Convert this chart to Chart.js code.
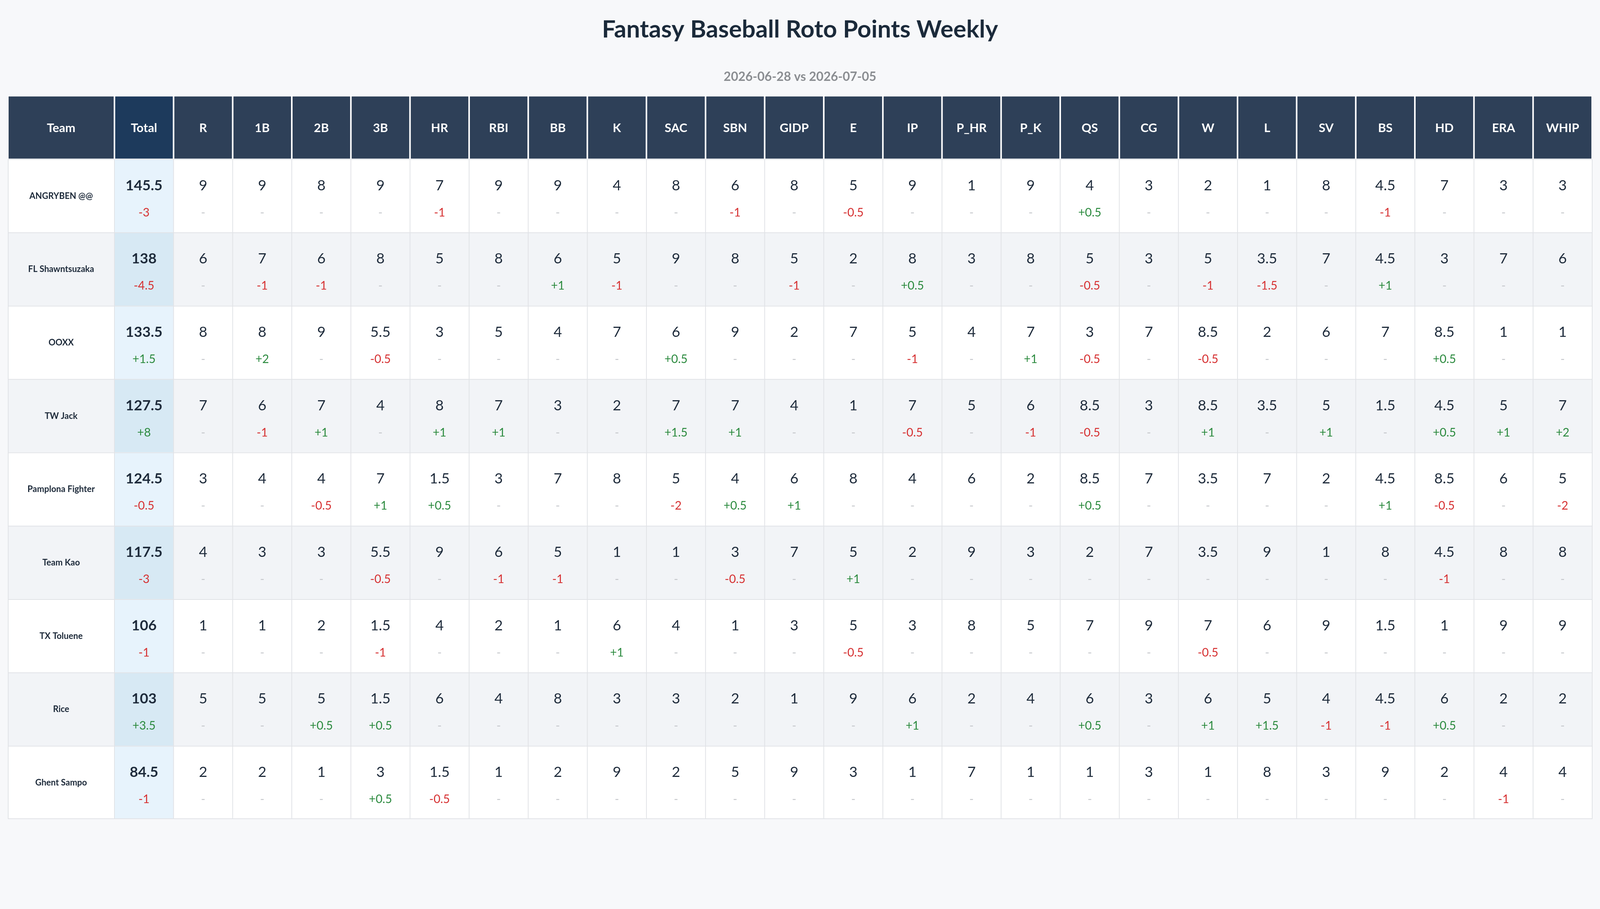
<!DOCTYPE html>
<html>
<head>
<meta charset="utf-8">
<title>Fantasy Baseball Roto Points Weekly</title>
<script src="https://cdn.jsdelivr.net/npm/chart.js@4.4.1/dist/chart.umd.min.js"></script>
<style>
  html, body { margin: 0; padding: 0; background: #f7f8fa; overflow: hidden; }
  #wrap { width: 100vw; height: 100vh; }
</style>
</head>
<body>
<div id="wrap"><canvas id="roto"></canvas></div>
<script>
const TEAMS = ["ANGRYBEN @@", "FL Shawntsuzaka", "OOXX", "TW Jack", "Pamplona Fighter",
  "Team Kao", "TX Toluene", "Rice", "Ghent Sampo"];

const STATS = ["R", "1B", "2B", "3B", "HR", "RBI", "BB", "K", "SAC", "SBN", "GIDP", "E",
  "IP", "P_HR", "P_K", "QS", "CG", "W", "L", "SV", "BS", "HD", "ERA", "WHIP"];

const TOTALS = [145.5, 138, 133.5, 127.5, 124.5, 117.5, 106, 103, 84.5];
const TOTAL_DELTAS = [-3, -4.5, 1.5, 8, -0.5, -3, -1, 3.5, -1];

// roto points per team, in STATS order
const POINTS = [
  [9, 9, 8, 9, 7, 9, 9, 4, 8, 6, 8, 5, 9, 1, 9, 4, 3, 2, 1, 8, 4.5, 7, 3, 3],
  [6, 7, 6, 8, 5, 8, 6, 5, 9, 8, 5, 2, 8, 3, 8, 5, 3, 5, 3.5, 7, 4.5, 3, 7, 6],
  [8, 8, 9, 5.5, 3, 5, 4, 7, 6, 9, 2, 7, 5, 4, 7, 3, 7, 8.5, 2, 6, 7, 8.5, 1, 1],
  [7, 6, 7, 4, 8, 7, 3, 2, 7, 7, 4, 1, 7, 5, 6, 8.5, 3, 8.5, 3.5, 5, 1.5, 4.5, 5, 7],
  [3, 4, 4, 7, 1.5, 3, 7, 8, 5, 4, 6, 8, 4, 6, 2, 8.5, 7, 3.5, 7, 2, 4.5, 8.5, 6, 5],
  [4, 3, 3, 5.5, 9, 6, 5, 1, 1, 3, 7, 5, 2, 9, 3, 2, 7, 3.5, 9, 1, 8, 4.5, 8, 8],
  [1, 1, 2, 1.5, 4, 2, 1, 6, 4, 1, 3, 5, 3, 8, 5, 7, 9, 7, 6, 9, 1.5, 1, 9, 9],
  [5, 5, 5, 1.5, 6, 4, 8, 3, 3, 2, 1, 9, 6, 2, 4, 6, 3, 6, 5, 4, 4.5, 6, 2, 2],
  [2, 2, 1, 3, 1.5, 1, 2, 9, 2, 5, 9, 3, 1, 7, 1, 1, 3, 1, 8, 3, 9, 2, 4, 4]
];

// change vs previous week (0 = no change)
const DELTAS = [
  [0, 0, 0, 0, -1, 0, 0, 0, 0, -1, 0, -0.5, 0, 0, 0, 0.5, 0, 0, 0, 0, -1, 0, 0, 0],
  [0, -1, -1, 0, 0, 0, 1, -1, 0, 0, -1, 0, 0.5, 0, 0, -0.5, 0, -1, -1.5, 0, 1, 0, 0, 0],
  [0, 2, 0, -0.5, 0, 0, 0, 0, 0.5, 0, 0, 0, -1, 0, 1, -0.5, 0, -0.5, 0, 0, 0, 0.5, 0, 0],
  [0, -1, 1, 0, 1, 1, 0, 0, 1.5, 1, 0, 0, -0.5, 0, -1, -0.5, 0, 1, 0, 1, 0, 0.5, 1, 2],
  [0, 0, -0.5, 1, 0.5, 0, 0, 0, -2, 0.5, 1, 0, 0, 0, 0, 0.5, 0, 0, 0, 0, 1, -0.5, 0, -2],
  [0, 0, 0, -0.5, 0, -1, -1, 0, 0, -0.5, 0, 1, 0, 0, 0, 0, 0, 0, 0, 0, 0, -1, 0, 0],
  [0, 0, 0, -1, 0, 0, 0, 1, 0, 0, 0, -0.5, 0, 0, 0, 0, 0, -0.5, 0, 0, 0, 0, 0, 0],
  [0, 0, 0.5, 0.5, 0, 0, 0, 0, 0, 0, 0, 0, 1, 0, 0, 0.5, 0, 1, 1.5, -1, -1, 0.5, 0, 0],
  [0, 0, 0, 0.5, -0.5, 0, 0, 0, 0, 0, 0, 0, 0, 0, 0, 0, 0, 0, 0, 0, 0, 0, -1, 0]
];

const COLUMNS = ["Total", ...STATS];
const FONT = 'Lato, "Noto Sans", sans-serif';

const cells = [];
TEAMS.forEach((team, r) => {
  cells.push({ x: "Total", y: team, v: TOTALS[r], d: TOTAL_DELTAS[r], total: true });
  STATS.forEach((s, c) => {
    cells.push({ x: s, y: team, v: POINTS[r][c], d: DELTAS[r][c], total: false });
  });
});

function fmtDelta(d) {
  if (!d) return "-";
  return (d > 0 ? "+" : "") + d;
}

function deltaColor(d) {
  if (!d) return "#c6c8cc";
  return d > 0 ? "#2b8a3e" : "#d63031";
}

function text(ctx, s, x, y, font, color) {
  ctx.font = font;
  ctx.fillStyle = color;
  ctx.textAlign = "center";
  ctx.textBaseline = "alphabetic";
  ctx.fillText(s, x, y);
}

const tablePlugin = {
  id: "rotoTable",
  beforeDraw(chart) {
    const { ctx, chartArea: a, scales: { x, y } } = chart;
    const halfW = (x.getPixelForValue(1) - x.getPixelForValue(0)) / 2;
    const halfH = (y.getPixelForValue(1) - y.getPixelForValue(0)) / 2;
    const left = y.left, right = a.right;

    ctx.save();
    ctx.fillStyle = "#f7f8fa";
    ctx.fillRect(0, 0, chart.width, chart.height);

    // table background
    ctx.fillStyle = "#ffffff";
    ctx.fillRect(left, x.top - 3, right - left, a.bottom - x.top + 3);

    // header row
    const hTop = x.top, hH = a.top - x.top - 1;
    ctx.fillStyle = "#2e4058";
    ctx.fillRect(left + 2, hTop, y.right - left - 4, hH);
    COLUMNS.forEach((c, i) => {
      const cx = x.getPixelForValue(i);
      ctx.fillStyle = i === 0 ? "#1d3a5c" : "#2e4058";
      ctx.fillRect(cx - halfW + 2, hTop, halfW * 2 - 4, hH);
    });

    // body rows
    TEAMS.forEach((t, r) => {
      const cy = y.getPixelForValue(r);
      const alt = r % 2 === 1;
      ctx.fillStyle = alt ? "#f2f4f7" : "#ffffff";
      ctx.fillRect(left, cy - halfH, right - left, halfH * 2);
      const tx = x.getPixelForValue(0);
      ctx.fillStyle = alt ? "#d7e9f4" : "#e7f3fc";
      ctx.fillRect(tx - halfW, cy - halfH, halfW * 2, halfH * 2);
    });

    // cell borders
    ctx.strokeStyle = "#e1e3e7";
    ctx.lineWidth = 2;
    ctx.beginPath();
    for (let i = 0; i <= COLUMNS.length; i++) {
      const px = i < COLUMNS.length ? x.getPixelForValue(i) - halfW : right;
      ctx.moveTo(px, a.top + 1);
      ctx.lineTo(px, a.bottom);
    }
    ctx.moveTo(left + 1, a.top + 1);
    ctx.lineTo(left + 1, a.bottom);
    TEAMS.forEach((t, r) => {
      const py = y.getPixelForValue(r) - halfH + 1;
      ctx.moveTo(left, py);
      ctx.lineTo(right, py);
    });
    ctx.moveTo(left, a.bottom - 1);
    ctx.lineTo(right, a.bottom - 1);
    ctx.stroke();
    ctx.restore();
  },
  afterDatasetsDraw(chart) {
    const { ctx, chartArea: a, scales: { x, y } } = chart;
    const hMid = (x.top + a.top) / 2;
    ctx.save();

    text(ctx, "Team", (y.left + y.right) / 2, hMid + 11, "bold 31px " + FONT, "#ffffff");
    COLUMNS.forEach((c, i) => {
      text(ctx, c, x.getPixelForValue(i), hMid + 11, "bold 31px " + FONT, "#ffffff");
    });

    TEAMS.forEach((t, r) => {
      text(ctx, t, (y.left + y.right) / 2, y.getPixelForValue(r) + 8, "bold 22px " + FONT, "#1b2838");
    });

    const meta = chart.getDatasetMeta(0);
    meta.data.forEach((el, i) => {
      const cell = cells[i];
      text(ctx, String(cell.v), el.x, el.y - 14,
        (cell.total ? "bold " : "") + "37px " + FONT, "#1e2b3b");
      text(ctx, fmtDelta(cell.d), el.x, el.y + 53, "30px " + FONT, deltaColor(cell.d));
    });
    ctx.restore();
  }
};

const chart = new Chart(document.getElementById("roto"), {
  type: "scatter",
  data: {
    datasets: [{
      data: cells,
      pointRadius: 0,
      pointHoverRadius: 0
    }]
  },
  options: {
    responsive: true,
    maintainAspectRatio: false,
    animation: false,
    events: [],
    layout: { padding: { left: 20, right: 20, top: 0, bottom: 230 } },
    plugins: {
      legend: { display: false },
      tooltip: { enabled: false },
      title: {
        display: true,
        text: "Fantasy Baseball Roto Points Weekly",
        color: "#1b2a3a",
        font: { family: FONT, size: 62, weight: "bold", lineHeight: 1.2 },
        padding: { top: 39, bottom: 64 }
      },
      subtitle: {
        display: true,
        text: "2026-06-28 vs 2026-07-05",
        color: "#8a8d91",
        font: { family: FONT, size: 32, weight: "bold", lineHeight: 1.2 },
        padding: { top: 0, bottom: 31 }
      }
    },
    scales: {
      x: {
        type: "category",
        labels: COLUMNS,
        position: "top",
        offset: true,
        grid: { display: false },
        border: { display: false },
        ticks: { display: false },
        afterFit: (scale) => { scale.height = 160; }
      },
      y: {
        type: "category",
        labels: TEAMS,
        offset: true,
        grid: { display: false },
        border: { display: false },
        ticks: { display: false },
        afterFit: (scale) => { scale.width = 273; }
      }
    }
  },
  plugins: [tablePlugin]
});
</script>
</body>
</html>
